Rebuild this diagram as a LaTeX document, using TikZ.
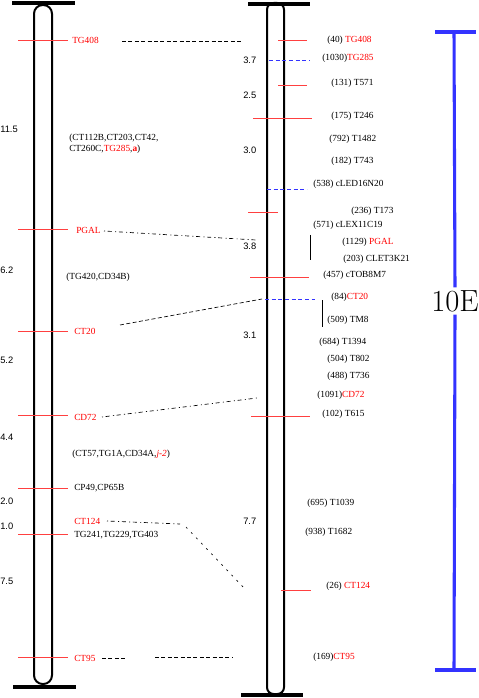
\documentclass[tikz,border=0pt]{standalone}
\usepackage{fontspec}
\newfontfamily\lblfont{Liberation Serif}
\setsansfont{Liberation Sans}
\usetikzlibrary{positioning}

\begin{document}
\begin{tikzpicture}[x=0.75pt,y=-0.75pt,
  lbl/.style={anchor=west,inner sep=0pt,font=\lblfont\fontsize{7}{8.6}\selectfont},
  num/.style={anchor=west,inner sep=0pt,font=\sffamily\fontsize{7}{8}\selectfont},
  mk/.style={red!75,line width=0.6pt},
  bmk/.style={blue!80,line width=0.6pt,dash pattern=on 3pt off 2pt},
  conn/.style={line width=0.5pt,dash pattern=on 3pt off 1.8pt},
  conndot/.style={line width=0.5pt,dash pattern=on 0.8pt off 2pt on 3pt off 2.5pt},
  rail/.style={line width=1.5pt},
  endbar/.style={line width=2.4pt}]
\useasboundingbox (0,0) rectangle (478,698);
% chromosomes
\draw[rail,rounded corners=6.5pt] (34,5) rectangle (52,684); \draw[endbar] (12,3)--(75,3); \draw[endbar] (13,687)--(76,687);
\draw[rail,rounded corners=5pt] (267,3) rectangle (284,694); \draw[endbar] (248,4)--(310,4); \draw[endbar] (241,695)--(303,695);
% scale bar
\node[font=\fontsize{23}{23}\selectfont,inner sep=2pt] (scl) at (455,301){10E};
\draw[blue!80,line width=2.3pt] (454,32)--(scl.north); \draw[blue!80,line width=2.3pt] (scl.south)--(454,670);
\draw[blue!80,line width=2.3pt] (435,32)--(476,32); \draw[blue!80,line width=2.3pt] (435,670)--(476,670);
% left map
\foreach \y in {40,229,331,415,488,534,657} \draw[mk] (18,\y)--(68,\y);
\foreach \y/\t in {129/11.5,270/6.2,360/5.2,437/4.4,501/2.0,526/1.0,581/7.5} \node[num] at (0,\y){\t};
\node[lbl,red] (lTGa) at (72,40){TG408};
\node[lbl,align=left] (lgrpa) at (69,144){(CT112B,CT203,CT42,\\CT260C,\textcolor{red}{TG285},\textcolor{red}{\textbf{a}})};
\node[lbl,red] (lPGAL) at (76,230){PGAL};
\node[lbl] (lgrpb) at (66,277){(TG420,CD34B)};
\node[lbl,red] (lCTb) at (74,331){CT20};
\node[lbl,red] (lCD) at (74,417){CD72};
\node[lbl] (lgrpc) at (72,454){(CT57,TG1A,CD34A,\textcolor{red}{\textit{j-2}})};
\node[lbl] (lCP) at (74,488){CP49,CP65B};
\node[lbl,red] (lCTc) at (74,521){CT124};
\node[lbl] (lTGb) at (74,535){TG241,TG229,TG403};
\node[lbl,red] (lCTd) at (74,658){CT95};
% right map
\foreach \a/\b/\y in {278/307/40,278/307/85,253/312/118,248/278/212,250/309/277,251/310/416,281/311/590} \draw[mk] (\a,\y)--(\b,\y);
\foreach \a/\b/\y in {269/310/60,267/307/189,265/315/299} \draw[bmk] (\a,\y)--(\b,\y);
\draw[line width=0.6pt] (310,235)--(310,260); \draw[line width=0.6pt] (322,300)--(322,327);
\foreach \y/\t in {60/3.7,95/2.5,150/3.0,246/3.8,335/3.1,521/7.7} \node[num] at (243,\y){\t};
\node[lbl] (rTGa) at (327,40){(40) \textcolor{red}{TG408}};
\node[lbl] (rTGb) at (322,58){(1030)\textcolor{red}{TG285}};
\node[lbl] (rT571) at (331,83){(131) T571};
\node[lbl] (rT246) at (331,116){(175) T246};
\node[lbl] (rT1482) at (329,139){(792) T1482};
\node[lbl] (rT743) at (331,161){(182) T743};
\node[lbl] (rLED) at (313,184){(538) cLED16N20};
\node[lbl] (rT173) at (351,211){(236) T173};
\node[lbl] (rLEX) at (313,225){(571) cLEX11C19};
\node[lbl] (rPGAL) at (342,242){(1129) \textcolor{red}{PGAL}};
\node[lbl] (rLET) at (343,259){(203) CLET3K21};
\node[lbl] (rTOB) at (323,275){(457) cTOB8M7};
\node[lbl] (rCTb) at (331,297){(84)\textcolor{red}{CT20}};
\node[lbl] (rTM8) at (327,320){(509) TM8};
\node[lbl] (rT1394) at (319,342){(684) T1394};
\node[lbl] (rT802) at (327,359){(504) T802};
\node[lbl] (rT736) at (327,376){(488) T736};
\node[lbl] (rCD) at (317,395){(1091)\textcolor{red}{CD72}};
\node[lbl] (rT615) at (322,414){(102) T615};
\node[lbl] (rT1039) at (307,503){(695) T1039};
\node[lbl] (rT1682) at (305,532){(938) T1682};
\node[lbl] (rCTc) at (326,586){(26) \textcolor{red}{CT124}};
\node[lbl] (rCTd) at (313,657){(169)\textcolor{red}{CT95}};
% connectors between maps
\coordinate (cTGa) at (122,41); \coordinate (dTGa) at (242,41);
\coordinate (cPGAL) at (104,231); \coordinate (dPGAL) at (256,240);
\coordinate (cCTb) at (120,325); \coordinate (dCTb) at (262,299);
\coordinate (cCD) at (102,417); \coordinate (dCD) at (257,398);
\coordinate (cCTc) at (107,521); \coordinate (kCTc) at (180,524); \coordinate (jCTc) at (186,527); \coordinate (dCTc) at (246,590);
\coordinate (cCTd) at (102,658); \coordinate (kCTd) at (127,658); \coordinate (jCTd) at (155,657); \coordinate (dCTd) at (232,657);
\draw[conn] (cTGa)--(dTGa);
\draw[conndot] (cPGAL)--(dPGAL);
\draw[conn] (cCTb)--(dCTb);
\draw[conndot] (cCD)--(dCD);
\draw[conndot] (cCTc)--(kCTc); \draw[line width=0.5pt,dash pattern=on 1.5pt off 4pt] (jCTc)--(dCTc);
\draw[conn] (cCTd)--(kCTd); \draw[conn] (jCTd)--(dCTd);
\end{tikzpicture}
\end{document}
